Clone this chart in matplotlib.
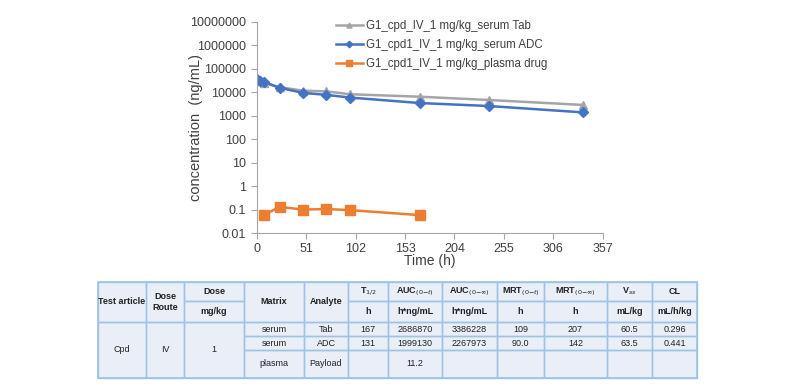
import numpy as np
import matplotlib
matplotlib.use('Agg')
import matplotlib.pyplot as plt
from matplotlib.patches import Rectangle
from matplotlib.ticker import FixedLocator, FixedFormatter

plt.rcParams['font.family'] = ['Liberation Sans', 'DejaVu Sans']

# PK profile data
t_serum = [0.083, 4, 8, 24, 48, 72, 96, 168, 240, 336]
tab_conc = [30000, 29000, 26000, 16500, 11800, 11000, 8300, 6500, 4700, 2900]
adc_conc = [37000, 31000, 27000, 15500, 9500, 7800, 6000, 3500, 2600, 1400]
t_plasma = [8, 24, 48, 72, 96, 168]
drug_conc = [0.06, 0.13, 0.10, 0.105, 0.095, 0.058]

labels = ['G1_cpd_IV_1 mg/kg_serum Tab',
          'G1_cpd1_IV_1 mg/kg_serum ADC',
          'G1_cpd1_IV_1 mg/kg_plasma drug']
x_ticks = [0, 51, 102, 153, 204, 255, 306, 357]
y_ticks = [0.01, 0.1, 1, 10, 100, 1000, 10000, 100000, 1000000, 10000000]
y_ticklabels = ['0.01', '0.1', '1', '10', '100', '1000', '10000', '100000',
                '1000000', '10000000']

# PK parameter table
col_head1 = ['Test article', 'Dose\nRoute', 'Dose', 'Matrix', 'Analyte',
             r'T$_{1/2}$', r'AUC$_{(0\mathrm{-}t)}$', r'AUC$_{(0\mathrm{-}\infty)}$',
             r'MRT$_{(0\mathrm{-}t)}$', r'MRT$_{(0\mathrm{-}\infty)}$', r'V$_{ss}$', 'CL']
col_units = ['', '', 'mg/kg', '', '', 'h', 'h*ng/mL', 'h*ng/mL', 'h', 'h',
             'mL/kg', 'mL/h/kg']
matrix = ['serum', 'serum', 'plasma']
analyte = ['Tab', 'ADC', 'Payload']
t_half = ['167', '131', '']
auc_t = ['2686870', '1999130', '11.2']
auc_inf = ['3386228', '2267973', '']
mrt_t = ['109', '90.0', '']
mrt_inf = ['207', '142', '']
vss = ['60.5', '63.5', '']
cl = ['0.296', '0.441', '']

W, H = 800, 386
fig = plt.figure(figsize=(W / 100, H / 100), dpi=100)

ax = fig.add_axes([256.5 / W, 1 - 233 / H, (603 - 256.5) / W, (233 - 22) / H])
ax.plot(t_serum, tab_conc, color='#a5a5a5', marker='^', ms=6, lw=1.8, label=labels[0])
ax.plot(t_serum, adc_conc, color='#4472c4', marker='D', ms=5.5, lw=1.8, label=labels[1])
ax.plot(t_plasma, drug_conc, color='#ed7d31', marker='s', ms=7.5, lw=1.8, label=labels[2])
ax.set_yscale('log')
ax.set_ylim(0.01, 1e7)
ax.set_xlim(0, 357)
ax.yaxis.set_major_locator(FixedLocator(y_ticks))
ax.yaxis.set_major_formatter(FixedFormatter(y_ticklabels))
ax.yaxis.set_minor_locator(FixedLocator([]))
ax.set_xticks(x_ticks)
for s in ['top', 'right']:
    ax.spines[s].set_visible(False)
for s in ['left', 'bottom']:
    ax.spines[s].set_color('#a6a6a6')
ax.tick_params(colors='#a6a6a6', labelcolor='#404040', labelsize=9, length=4, width=0.8)
ax.set_ylabel('concentration  (ng/mL)', fontsize=10.5, color='#404040')
ax.yaxis.set_label_coords(-0.155, 0.5)
ax.set_xlabel('Time (h)', fontsize=10, color='#404040', labelpad=-1)
ax.patch.set_alpha(0)
leg = ax.legend(loc='upper left', bbox_to_anchor=(0.2, 1.06), frameon=False,
                fontsize=8.3, handlelength=2.3, handletextpad=0.3, labelspacing=0.6,
                markerscale=0.6)
for txt in leg.get_texts():
    txt.set_color('#404040')

# table drawn in pixel coordinates
tax = fig.add_axes([0, 0, 1, 1])
tax.set_xlim(0, W)
tax.set_ylim(H, 0)
tax.axis('off')

xs = [98, 146, 184, 244, 304, 348, 388, 442, 497, 544, 607, 652, 697]
ys = [282, 301, 322, 336, 350, 378]
edge = '#9dc3e6'
bg = '#e9eef7'
fs = 6.5

tax.add_patch(Rectangle((xs[0], ys[0]), xs[-1] - xs[0], ys[-1] - ys[0],
                        facecolor=bg, edgecolor=edge, lw=1.2))

def cell(c0, c1, r0, r1, text='', bold=False):
    tax.add_patch(Rectangle((xs[c0], ys[r0]), xs[c1] - xs[c0], ys[r1] - ys[r0],
                            facecolor='none', edgecolor=edge, lw=1))
    if text:
        tax.text((xs[c0] + xs[c1]) / 2, (ys[r0] + ys[r1]) / 2, text,
                 ha='center', va='center', fontsize=fs, color='#222222',
                 fontweight='bold' if bold else 'normal', linespacing=1.3)

# header
for i, h in enumerate(col_head1):
    if col_units[i]:
        cell(i, i + 1, 0, 1, h, bold=True)
        cell(i, i + 1, 1, 2, col_units[i], bold=True)
    else:
        cell(i, i + 1, 0, 2, h, bold=True)

# merged left block
cell(0, 1, 2, 5, 'Cpd')
cell(1, 2, 2, 5, 'IV')
cell(2, 3, 2, 5, '1')

cols = [matrix, analyte, t_half, auc_t, auc_inf, mrt_t, mrt_inf, vss, cl]
for r in range(3):
    for j, vals in enumerate(cols):
        cell(3 + j, 4 + j, 2 + r, 3 + r, vals[r])

fig.savefig('out.png', dpi=100)
